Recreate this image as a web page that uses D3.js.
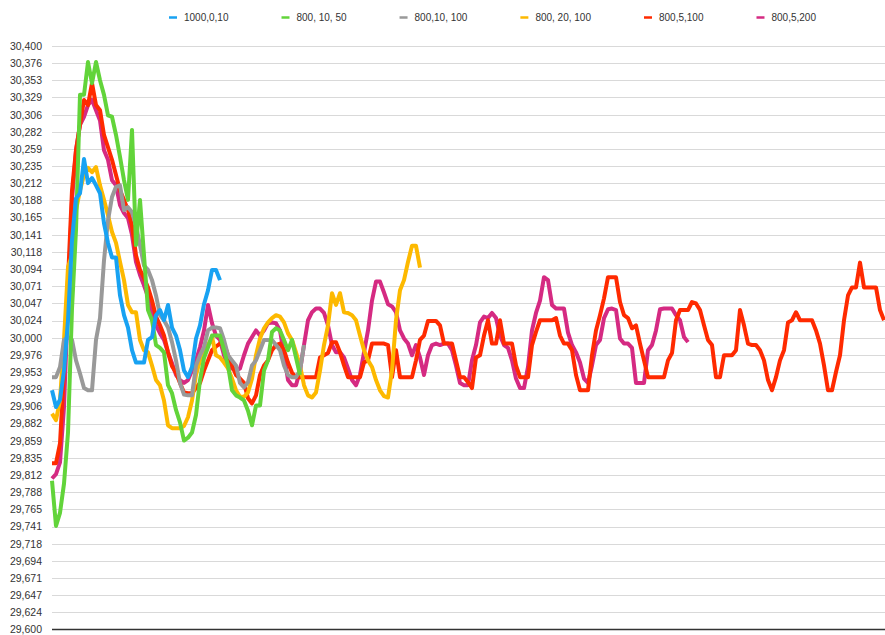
<!DOCTYPE html>
<html>
<head>
<meta charset="utf-8">
<script src="https://cdn.jsdelivr.net/npm/d3@7"></script>
<style>
  html, body { margin: 0; padding: 0; background: #fff; }
  svg { display: block; font-family: "Liberation Sans", Arial, Helvetica, sans-serif; }
</style>
</head>
<body>
<svg id="chart" width="885" height="635"></svg>
<script>
// Series labels and colours (legend order)
const seriesNames = ["1000,0,10", "800, 10, 50", "800,10, 100", "800, 20, 100", "800,5,100", "800,5,200"];
const seriesColors = ["#18a2f2", "#62d43a", "#999999", "#fdb900", "#ff2a00", "#d52a82"];

// Sampled readings, one value per step
const run1000_0_10 = [29928, 29905, 29915, 29955, 30024, 30134, 30191, 30198, 30245, 30212,
  30219, 30209, 30198, 30157, 30130, 30110, 30110, 30058, 30031, 30014,
  29983, 29966, 29966, 29966, 29997, 30001, 30031, 30038, 30024, 30045,
  30014, 30003, 29983, 29955, 29946, 29960, 29999, 30017, 30046, 30065,
  30093, 30093, 30079];

const run800_10_50 = [29804, 29742, 29760, 29800, 29870, 30040, 30148, 30333, 30333, 30378,
  30349, 30378, 30353, 30333, 30305, 30303, 30278, 30248, 30216, 30189,
  30285, 30127, 30189, 30113, 30038, 30024, 29990, 29986, 29980, 29935,
  29924, 29901, 29884, 29859, 29863, 29870, 29894, 29942, 29972, 29987,
  30003, 30003, 30003, 29983, 29962, 29928, 29921, 29918, 29914, 29900,
  29880, 29907, 29907, 29955, 29969, 30008, 30013, 30010, 29997, 29983,
  29997, 29973, 29949];

const run800_10_100 = [29946, 29946, 29960, 29997, 30001, 29997, 29969, 29951, 29931, 29928,
  29928, 29997, 30027, 30106, 30161, 30193, 30207, 30209, 30175, 30179,
  30172, 30154, 30127, 30099, 30093, 30079, 30058, 30031, 30024, 30014,
  29994, 29969, 29938, 29922, 29921, 29921, 29962, 29976, 29987, 30010,
  30014, 30014, 30013, 29997, 29976, 29969, 29962, 29938, 29932, 29939,
  29962, 29969, 29983, 29997, 29997, 29997, 29990, 29983, 29962, 29949,
  29946, 29946, 29955, 29990];

const run800_20_100 = [29896, 29887, 29914, 29997, 30097, 30113, 30175, 30202, 30223, 30233,
  30227, 30234, 30209, 30189, 30168, 30145, 30130, 30104, 30079, 30045,
  30035, 30035, 29997, 29983, 29980, 29962, 29942, 29935, 29914, 29880,
  29876, 29876, 29876, 29879, 29891, 29914, 29949, 29969, 29980, 29990,
  30001, 29976, 29973, 29966, 29958, 29944, 29928, 29919, 29919, 29925,
  29944, 29976, 29999, 30013, 30021, 30027, 30031, 30029, 30021, 30006,
  29997, 29980, 29962, 29935, 29921, 29918, 29925, 29955, 29990, 30017,
  30061, 30045, 30061, 30035, 30034, 30031, 30024, 30003, 29983, 29969,
  29960, 29942, 29928, 29920, 29918, 29955, 30024, 30065, 30079, 30104,
  30126, 30126, 30096];

const run800_5_100 = [29828, 29828, 29855, 29955, 30079, 30202, 30257, 30292, 30326, 30319,
  30349, 30319, 30312, 30278, 30261, 30244, 30223, 30202, 30189, 30175,
  30154, 30113, 30093, 30082, 30069, 30051, 30029, 30017, 30003, 29980,
  29961, 29952, 29938, 29925, 29924, 29924, 29931, 29938, 29955, 29969,
  29983, 29988, 29992, 29992, 29976, 29962, 29949, 29944, 29938, 29917,
  29910, 29921, 29949, 29962, 29969, 29983, 29990, 29992, 29983, 29966,
  29952, 29946, 29946, 29946, 29946, 29946, 29946, 29973, 29976, 29979,
  29994, 29994, 29980, 29962, 29946, 29946, 29946, 29946, 29966, 29969,
  29992, 29992, 29992, 29992, 29990, 29946, 29983, 29946, 29946, 29946,
  29946, 29969, 29997, 30003, 30023, 30023, 30023, 30017, 29992, 29992,
  29992, 29969, 29946, 29946, 29939, 29931, 29973, 29976, 30003, 30024,
  29992, 29992, 30024, 29992, 29992, 29992, 29962, 29946, 29946, 29946,
  29990, 30008, 30024, 30024, 30024, 30024, 30027, 30003, 29992, 29992,
  29983, 29949, 29928, 29928, 29928, 29976, 30010, 30031, 30054, 30083,
  30083, 30083, 30049, 30031, 30027, 30013, 30017, 29992, 29969, 29946,
  29946, 29946, 29946, 29946, 29969, 29979, 30024, 30038, 30038, 30038,
  30049, 30047, 30038, 30017, 29997, 29990, 29946, 29946, 29976, 29976,
  29976, 29983, 30038, 30017, 29992, 29990, 29990, 29983, 29969, 29942,
  29928, 29946, 29969, 29983, 30021, 30024, 30035, 30024, 30024, 30024,
  30024, 30010, 29992, 29962, 29928, 29928, 29953, 29976, 30024, 30058,
  30069, 30069, 30103, 30069, 30069, 30069, 30069, 30038, 30024];

const run800_5_200 = [29807, 29813, 29829, 29905, 30051, 30189, 30257, 30292, 30303, 30319,
  30326, 30312, 30298, 30257, 30244, 30216, 30209, 30182, 30171, 30164,
  30141, 30104, 30086, 30072, 30056, 30034, 30017, 30006, 29997, 29980,
  29965, 29949, 29942, 29938, 29942, 29955, 29969, 29987, 30010, 30045,
  30020, 30003, 29997, 29976, 29962, 29958, 29955, 29958, 29976, 29992,
  30001, 30010, 30003, 30010, 30020, 30021, 30020, 30010, 29976, 29942,
  29935, 29935, 29955, 29990, 30024, 30035, 30040, 30040, 30034, 30017,
  29990, 29980, 29980, 29973, 29958, 29942, 29935, 29949, 29980, 30010,
  30051, 30077, 30077, 30062, 30046, 30043, 30035, 30010, 29999, 29992,
  29976, 29990, 29973, 29949, 29976, 29990, 29992, 29990, 29992, 29992,
  29983, 29962, 29938, 29935, 29935, 29969, 29990, 30021, 30029, 30027,
  30034, 30027, 30003, 29990, 29986, 29969, 29944, 29931, 29931, 29960,
  30010, 30034, 30051, 30083, 30079, 30045, 30040, 30040, 30040, 30007,
  29990, 29980, 29966, 29944, 29938, 29962, 29990, 29997, 30027, 30039,
  30040, 30038, 29999, 29992, 29992, 29986, 29938, 29938, 29938, 29983,
  29990, 30010, 30039, 30040, 30040, 30040, 30031, 30024, 30001, 29994];

// Value-axis labels, bottom to top
const yTickLabels = ["29,600", "29,624", "29,647", "29,671", "29,694", "29,718", "29,741",
  "29,765", "29,788", "29,812", "29,835", "29,859", "29,882", "29,906", "29,929", "29,953",
  "29,976", "30,000", "30,024", "30,047", "30,071", "30,094", "30,118", "30,141", "30,165",
  "30,188", "30,212", "30,235", "30,259", "30,282", "30,306", "30,329", "30,353", "30,376",
  "30,400"];

const yMin = 29600, yMax = 30400;
const seriesData = [run1000_0_10, run800_10_50, run800_10_100, run800_20_100, run800_5_100, run800_5_200];
const stepCount = d3.max(seriesData, d => d.length);

const svg = d3.select("#chart");
const plot = { left: 52, right: 885, top: 46, bottom: 629.5 };

const x = d3.scaleLinear().domain([0, stepCount - 1]).range([plot.left, plot.right - 1]);
const y = d3.scaleLinear().domain([yMin, yMax]).range([plot.bottom, plot.top]);

const tickVals = yTickLabels.map((_, i) => yMin + i * (yMax - yMin) / (yTickLabels.length - 1));

// Horizontal gridlines
svg.append("g")
  .selectAll("line")
  .data(tickVals.slice(1))
  .join("line")
  .attr("x1", plot.left).attr("x2", plot.right)
  .attr("y1", d => Math.round(y(d)) + 0.5).attr("y2", d => Math.round(y(d)) + 0.5)
  .attr("stroke", "#d9d9d9").attr("stroke-width", 1.2);

// Value axis labels
const yAxis = d3.axisLeft(y)
  .tickValues(tickVals)
  .tickFormat((d, i) => yTickLabels[i])
  .tickSize(0)
  .tickPadding(0);
const gy = svg.append("g").attr("transform", "translate(42,0)").call(yAxis);
gy.select(".domain").remove();
gy.selectAll("text")
  .attr("fill", "#333")
  .style("font-size", "10.5px")
  .style("font-family", "'Liberation Sans', Arial, sans-serif");

// Baseline
svg.append("line")
  .attr("x1", plot.left).attr("x2", plot.right)
  .attr("y1", y(yMin)).attr("y2", y(yMin))
  .attr("stroke", "#333").attr("stroke-width", 1.5);

// Series lines, drawn so the first legend entry ends up on top
const line = d3.line()
  .x((d, i) => x(i))
  .y(d => y(d));

const order = d3.range(seriesData.length).reverse();
svg.append("g")
  .selectAll("path")
  .data(order)
  .join("path")
  .attr("d", k => line(seriesData[k]))
  .attr("fill", "none")
  .attr("stroke", k => seriesColors[k])
  .attr("stroke-width", 4)
  .attr("stroke-linejoin", "round")
  .attr("stroke-linecap", "butt");

// Legend
const legend = svg.append("g").attr("class", "legend");
let lx = 169;
seriesNames.forEach((name, k) => {
  const item = legend.append("g").attr("transform", `translate(${lx},0)`);
  item.append("line")
    .attr("x1", 0).attr("x2", 8)
    .attr("y1", 17.5).attr("y2", 17.5)
    .attr("stroke", seriesColors[k]).attr("stroke-width", 2.5);
  const t = item.append("text")
    .attr("x", 15).attr("y", 21)
    .attr("fill", "#333")
    .style("font-size", "10px")
    .text(name);
  lx += 15 + t.node().getComputedTextLength() + 53;
});
</script>
</body>
</html>
